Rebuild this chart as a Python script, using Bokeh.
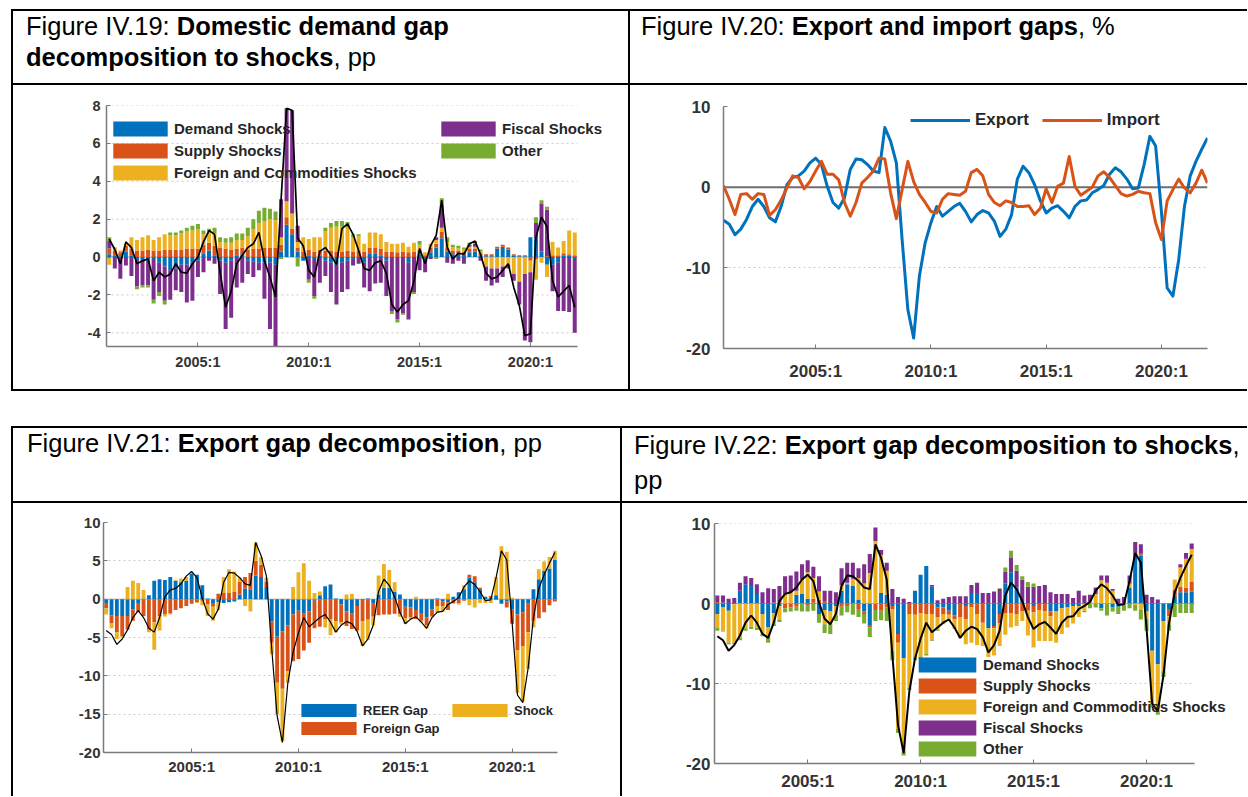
import numpy as np
from bokeh.plotting import figure
from bokeh.models import (Range1d, FixedTicker, Legend, LegendItem, Span, Div,
                          Spacer, ColumnDataSource, PrintfTickFormatter)
from bokeh.layouts import column, row
from bokeh.embed import file_html
from bokeh.resources import INLINE

# ---------------- data ----------------
quarters = [f"{y}:{q}" for y in range(2001, 2023) for q in range(1, 5)][:85]
tick_labels = ["2005:1", "2010:1", "2015:1", "2020:1"]

# Figure IV.20: export and import gaps, %
export_gap = [-4.1, -4.6, -5.9, -5.2, -4.0, -2.4, -1.5, -2.4, -3.8, -4.3,
              -2.4, 0.3, 1.2, 1.4, 2.0, 3.0, 3.6, 2.8, 0.1, -1.9,
              -2.6, -1.3, 2.2, 3.5, 3.4, 2.8, 2.0, 1.8, 7.4, 5.7,
              3.0, -6.5, -15.2, -18.7, -11.0, -6.9, -4.4, -2.4, -3.6, -3.0,
              -2.4, -2.0, -3.0, -4.3, -3.4, -2.9, -3.2, -4.2, -6.1, -5.2,
              -3.4, 1.0, 2.6, 1.8, 0.3, -1.7, -3.2, -2.6, -2.3, -3.0,
              -3.8, -2.4, -1.7, -1.6, -0.7, -0.3, 0.2, 1.6, 2.4, 1.9,
              1.0, -0.2, -0.1, 2.8, 6.3, 5.1, -3.0, -12.5, -13.5, -9.0,
              -2.4, 1.4, 3.2, 4.7, 6.1]
import_gap = [0.2, -1.5, -3.4, -0.9, -0.8, -1.5, -0.8, -0.9, -3.5, -2.8,
              -1.6, -0.1, 1.4, 1.2, -0.2, 0.7, 2.0, 3.2, 1.6, 1.6,
              0.9, -1.9, -3.6, -1.9, 0.5, 1.2, 2.0, 3.6, 3.5, -0.7,
              -3.9, -0.3, 3.2, 0.7, -0.9, -1.9, -3.0, -3.2, -1.5, -0.8,
              -0.9, -1.0, -0.5, 1.8, 2.2, 1.4, -0.9, -1.9, -2.3, -1.7,
              -1.9, -2.4, -2.4, -2.3, -3.4, -2.6, -0.2, -1.9, 0.1, 0.5,
              3.8, 0.1, -1.0, -0.5, 0.0, 1.4, 1.9, 1.2, 0.2, -0.8,
              -1.1, -0.9, -0.5, -0.7, -0.8, -4.4, -6.5, -1.7, -0.3, 1.0,
              -0.1, -0.7, 0.5, 2.1, 0.5]

# Figure IV.19: domestic demand gap decomposition to shocks, pp
dd_gap = [0.95, 0.4, -0.35, 0.8, 0.5, -0.35, -0.2, -0.1, -1.25, -0.8,
          -1.05, -0.9, -0.35, -0.8, -0.85, -0.35, 0.0, 0.8, 1.4, 1.2,
          -0.8, -2.65, -1.8, -0.35, 0.1, 0.5, 0.7, 1.3, -0.2, -1.05,
          -2.1, 3.0, 7.85, 7.75, 1.0, 0.6, -0.7, -1.05, 0.3, 0.5,
          0.1, -0.4, 1.5, 1.75, 1.2, 0.35, -0.6, -0.7, -0.3, -0.2,
          -0.85, -2.5, -2.9, -2.5, -2.3, -1.25, 0.45, -0.35, 0.6, 1.15,
          3.0, 0.5, -0.1, 0.2, 0.15, 0.7, 0.85, 0.15, -0.85, -1.15,
          -1.05, -0.7, -0.35, -1.6, -2.55, -4.15, -4.05, 1.05, 2.1, 1.6,
          -1.25, -2.1, -1.8, -1.5, -2.65]
dd_demand = [0.15, 0.1, 0.05, 0.3, 0.1, -0.1, -0.2, -0.2, -0.1, -0.3,
             -0.5, -0.7, -0.6, -0.4, -0.4, -0.3, -0.2, 0.2, 0.35, 0.1,
             -0.2, -0.3, -0.2, 0.1, 0.15, -0.2, -0.25, -0.3, -0.3, -0.3,
             -0.4, 0.3, 1.7, 1.2, 0.3, -0.2, 0.1, -0.1, 0.1, -0.2,
             -0.3, -0.4, -0.3, -0.2, -0.1, 0.0, -0.3, 0.2, 0.2, 0.1,
             -0.2, 0.0, 0.0, 0.0, -0.3, 0.0, 0.15, -0.1, 0.25, 0.5,
             1.0, 0.3, 0.15, 0.2, 0.15, 0.25, 0.3, 0.1, 0.05, 0.05,
             0.45, 0.55, 0.4, 0.1, 0.05, 0.05, 1.05, 1.0, 0.3, -0.4,
             -0.4, -0.3, 0.1, 0.1, -0.1]
dd_supply = [0.3, 0.25, 0.2, 0.3, 0.35, 0.35, 0.35, 0.4, 0.35, 0.35,
             0.4, 0.4, 0.4, 0.4, 0.45, 0.45, 0.45, 0.45, 0.4, 0.5,
             0.5, 0.45, 0.4, 0.35, 0.35, 0.4, 0.45, 0.45, 0.5, 0.5,
             0.5, 0.35, 0.4, 0.3, 0.2, 0.3, 0.3, 0.3, 0.3, 0.35,
             0.35, 0.3, 0.3, 0.35, 0.3, 0.35, 0.3, 0.3, 0.3, 0.35,
             0.3, 0.3, 0.25, 0.3, 0.25, 0.3, 0.2, 0.1, 0.25, 0.2,
             0.35, 0.2, 0.2, 0.15, 0.15, 0.2, 0.15, 0.1, 0.1, 0.1,
             0.1, 0.1, 0.1, 0.05, 0.05, 0.05, -0.2, -0.1, 0.0, 0.05,
             0.1, 0.1, 0.1, 0.05, 0.1]
dd_foreign = [-0.4, 0.1, 0.1, 0.1, 0.6, 0.55, 0.7, 0.75, 0.55, 0.7,
              0.8, 0.75, 0.75, 0.85, 0.9, 0.95, 1.0, 0.55, 0.55, 0.65,
              0.3, 0.3, 0.35, 0.45, 0.4, 0.7, 1.0, 1.35, 1.4, 1.5,
              1.45, 0.4, 0.85, 0.8, 0.3, 0.75, 0.55, 0.75, 0.65, 1.0,
              1.2, 1.3, 1.3, 1.2, 0.75, 0.75, 0.4, 0.8, 0.8, 0.75,
              0.5, 0.4, 0.45, 0.45, 0.3, 0.45, 0.3, 0.15, 0.2, 0.2,
              0.2, 0.3, 0.15, 0.1, 0.1, 0.1, 0.1, 0.1, -0.5, -0.6,
              -0.6, -0.5, -0.4, -0.9, -1.3, -0.9, -0.6, -1.1, -0.3, -0.65,
              0.7, 0.4, 0.65, 1.25, 1.2]
dd_fiscal = [0.4, -0.6, -1.15, -0.45, -1.0, -1.45, -1.3, -1.3, -2.15, -1.55,
             -1.8, -1.55, -1.15, -1.45, -2.0, -2.0, -0.85, -0.8, -0.2, -0.35,
             -1.75, -3.5, -3.0, -1.6, -1.35, -0.7, -0.8, -0.4, -1.9, -3.5,
             -4.3, 2.0, 4.9, 5.45, 0.85, 0.0, -1.2, -1.95, -1.35, -0.8,
             -1.55, -2.1, -1.55, -1.5, -0.35, -0.35, -1.3, -1.8, -1.4, -1.35,
             -1.85, -2.85, -3.3, -2.95, -3.0, -1.85, -0.7, -0.7, -0.1, 0.15,
             1.2, -0.3, -0.35, -0.2, -0.35, 0.1, 0.15, -0.2, -0.75, -0.9,
             -0.75, -0.55, -0.2, -0.35, -1.2, -3.5, -3.7, 0.8, 2.5, 2.45,
             -1.4, -2.55, -2.85, -2.9, -3.9]
dd_other = [0.2, 0.05, 0.0, 0.0, 0.0, -0.15, -0.1, -0.1, -0.2, -0.2,
            -0.2, 0.15, 0.15, 0.15, 0.2, 0.25, 0.3, 0.2, 0.2, 0.3,
            0.25, 0.25, 0.3, 0.35, 0.35, 0.45, 0.55, 0.65, 0.7, 0.55,
            0.45, -0.1, 0.0, 0.0, -0.5, 0.0, -0.15, -0.15, 0.0, 0.2,
            0.25, 0.3, 0.3, 0.3, 0.15, 0.1, 0.0, 0.0, 0.0, 0.0,
            0.0, -0.15, -0.15, -0.1, 0.0, -0.1, 0.2, 0.0, 0.0, -0.1,
            0.35, 0.25, 0.15, 0.15, 0.1, 0.1, 0.15, 0.1, 0.0, 0.0,
            0.0, 0.0, 0.0, 0.0, 0.0, 0.0, 0.0, 0.3, 0.2, 0.15,
            0.0, 0.0, 0.0, 0.0, 0.0]

# Figure IV.21: export gap decomposition, pp
ex_reer = [-0.5, -2.1, -2.2, -2.2, -2.2, -1.3, -0.5, 0.1, 0.5, 2.4,
           2.6, 2.5, 2.9, 2.4, 2.2, 2.4, 3.3, 3.2, 1.8, 0.1,
           -0.5, -0.4, -0.5, -0.4, -0.3, 0.6, 1.4, 1.3, 3.1, 2.9,
           1.6, -2.9, -4.9, -4.2, -3.4, -2.0, -1.5, -1.8, -1.6, -0.2,
           0.5, 1.7, 1.9, 0.1, -0.7, -1.6, -1.9, -0.9, -0.1, 0.1,
           -0.6, 0.6, 1.5, 1.5, 1.0, 0.6, -1.0, -1.1, -1.4, -1.8,
           -2.4, -1.3, 0.1, -0.3, -0.4, 0.3, 0.9, 1.3, 2.8, 2.2,
           1.2, 0.3, 0.2, 0.5, -0.6, -0.3, -1.3, -2.0, -1.7, -0.6,
           1.3, 2.6, 3.7, 4.0, 5.1]
ex_foreign_gap = [-0.7, -1.0, -2.1, -2.6, -1.8, -1.5, -1.2, -2.2, -4.0, -3.0,
                  -2.2, -1.95, -1.8, -1.4, -1.2, -0.9, -0.6, -0.4, -0.2, -0.7,
                  -0.5, 0.7, 0.8, 0.8, 1.0, 1.7, 1.5, 2.1, 1.9, 1.6,
                  0.7, -2.8, -6.0, -7.5, -6.0, -6.1, -6.3, -4.9, -4.1, -3.6,
                  -3.6, -2.6, -2.6, -2.9, -2.3, -1.9, -2.0, -3.2, -2.8, -2.7,
                  -1.7, -2.1, -2.0, -2.0, -1.9, -2.0, -1.5, -1.3, -1.2, -1.0,
                  -1.0, -0.9, -0.9, -0.6, -1.0, -0.5, -0.5, -0.2, 0.4, 0.8,
                  0.3, 0.0, 0.2, -0.1, 0.0, -0.8, -1.9, -4.7, -4.4, -3.7,
                  -2.8, -2.5, -1.7, -0.8, -0.3]
ex_shock = [-0.8, -0.7, -0.9, -0.2, 1.6, 2.4, 2.1, 1.1, -0.3, -3.6,
            -1.9, -0.3, -0.2, 0.1, 0.5, 0.5, 0.3, -0.1, -0.6, -1.5,
            -1.8, -1.0, 2.1, 3.1, 2.6, 0.5, -0.9, -1.6, 2.4, 1.0,
            0.5, -1.5, -4.1, -6.8, -1.5, 1.6, 3.5, 4.7, 2.4, 0.8,
            0.5, -1.1, -2.1, -1.4, -0.3, 0.6, 0.7, -0.1, -3.2, -2.6,
            -1.1, 2.5, 3.1, 2.3, 1.2, -0.3, -0.7, -0.2, 0.3, -0.2,
            -0.4, -0.2, -0.9, -0.7, 0.7, -0.1, -0.2, 0.5, -0.8, -1.1,
            -0.5, -0.5, -0.5, 2.4, 6.9, 6.2, 0.2, -5.5, -7.2, -4.8,
            -0.9, 1.3, 1.2, 1.5, 1.2]

# Figure IV.22: export gap decomposition to shocks, pp
xs_demand = [-1.3, -0.5, -0.9, -0.1, 1.6, 2.4, 2.2, 1.2, -1.3, -3.0,
             -1.2, -0.3, 0.0, 0.0, 1.1, 1.2, 0.6, 0.1, -1.3, -0.8,
             -1.0, -0.3, 1.6, 2.4, 2.2, 0.5, -1.0, -2.7, 0.0, 1.3,
             1.1, -0.3, -3.8, -6.8, 0.0, 1.6, 3.6, 4.7, 2.1, -0.5,
             -0.5, -0.9, -1.5, 0.0, -0.3, 1.3, 1.3, 0.0, -3.1, -2.8,
             -1.3, 2.5, 3.9, 2.0, 0.3, 0.0, -0.3, 0.0, 0.0, -1.0,
             -1.0, -0.6, -0.5, -0.3, -0.3, 0.0, 0.0, 0.0, -0.6, 0.0,
             -0.5, -0.4, 0.0, 2.0, 6.3, 6.0, -1.0, -5.9, -7.6, -2.2,
             -0.7, 0.8, 1.4, 1.4, 1.5]
xs_supply = [0.2, 0.1, 0.0, 0.0, 0.0, 0.0, 0.0, 0.0, 0.0, 0.0,
             0.1, 0.2, -0.6, -0.5, -0.4, 0.0, -0.2, 0.5, 0.5, 0.3,
             0.0, 0.0, -0.4, -0.3, 0.0, -0.7, -0.3, -0.3, -0.8, -0.9,
             -0.5, -0.4, -1.1, 0.0, -1.3, -1.4, -1.2, -1.3, -1.3, -1.2,
             -0.8, -0.5, -0.5, -1.7, -1.7, -0.5, -1.3, -2.4, 0.0, -0.3,
             -1.2, -1.2, -1.2, -1.3, -1.0, -0.9, -0.8, -0.8, -1.0, -0.6,
             0.0, 0.0, 0.0, 0.0, 0.0, 0.0, 0.0, 0.0, 0.0, 0.0,
             0.0, 0.0, 0.1, 0.0, 0.0, 0.3, 0.0, 0.0, 0.0, 0.0,
             -0.9, 0.9, 0.7, 0.6, 1.2]
xs_foreign = [-1.7, -2.9, -4.0, -4.8, -4.3, -3.1, -2.9, -3.0, -2.5, -1.2,
              -1.3, -1.7, 1.2, 1.4, 0.5, 1.8, 3.3, 2.6, 1.0, -1.8,
              -1.6, -1.2, 0.7, 0.2, 0.9, 2.7, 2.5, 3.8, 7.8, 4.8,
              3.0, -5.2, -10.8, -11.8, -9.2, -5.4, -5.5, -5.0, -3.3, -1.6,
              -1.3, -0.8, -1.2, -2.6, -3.1, -4.4, -3.9, -2.9, -3.6, -3.4,
              -2.8, -2.7, -1.8, -1.5, -1.2, -3.1, -4.4, -3.9, -3.7, -3.1,
              -3.9, -3.2, -2.5, -2.2, -1.4, -0.9, 0.3, 1.2, 2.9, 2.6,
              1.6, 0.0, 0.0, 0.5, -0.2, -0.8, -0.9, -6.5, -5.8, -6.2,
              -1.0, 1.3, 2.4, 3.6, 4.1]
xs_fiscal = [0.8, 0.9, 0.6, 0.7, 1.0, 1.0, 1.0, 1.2, 1.4, 1.9,
             1.7, 2.0, 2.2, 2.1, 2.4, 1.9, 1.5, 1.4, 1.9, 1.3,
             1.6, 1.4, 2.1, 2.5, 2.0, 1.2, 2.4, 2.4, 1.7, 0.6,
             1.0, 1.8, 0.8, 0.6, 0.2, 0.0, 0.0, 0.0, 0.2, 0.4,
             0.6, 0.8, 0.9, 0.9, 0.9, 1.0, 1.3, 1.3, 1.3, 1.5,
             1.8, 1.5, 1.8, 2.1, 2.7, 2.1, 2.1, 2.2, 2.3, 1.4,
             1.2, 1.2, 1.2, 0.7, 1.6, 1.0, 0.8, 0.8, 0.6, 0.9,
             0.2, 0.6, 0.7, 1.0, 1.4, 1.1, 1.1, 0.8, 0.5, 0.0,
             0.0, 0.0, 0.4, 0.7, 0.7]
xs_other = [-0.4, -0.1, -0.2, -0.2, -0.3, -0.3, -0.3, -0.3, -0.3, -0.7,
            -0.3, -0.3, -0.5, -0.5, -0.5, -1.0, -0.8, -0.9, -1.1, -1.1,
            -1.2, -0.7, -1.1, -0.8, -1.4, -1.0, -1.2, -1.2, -1.4, -1.2,
            -1.7, -1.2, -0.5, -0.4, -0.3, -0.3, -0.2, -0.2, -0.1, -0.1,
            0.0, 0.0, 0.0, 0.0, 0.0, 0.0, 0.0, 0.0, 0.0, 0.0,
            0.1, 0.5, 0.9, 0.7, 0.4, 0.6, 0.4, 0.0, 0.0, 0.0,
            0.0, 0.0, 0.0, 0.0, 0.0, -0.2, -0.6, -0.5, -0.3, -1.5,
            -0.5, -0.9, -0.9, -0.6, -0.7, -1.2, -1.5, -0.6, -0.5, -0.8,
            -0.8, -1.7, -1.2, -1.2, -1.2]

shock_names = ["Demand Shocks", "Supply Shocks", "Foreign and Commodities Shocks",
               "Fiscal Shocks", "Other"]
gap_names = ["REER Gap", "Foreign Gap", "Shock"]

BLUE, ORANGE, YELLOW, PURPLE, GREEN = "#0072BD", "#D95319", "#EDB120", "#7E2F8E", "#77AC30"
SHOCK_COLORS = [BLUE, ORANGE, YELLOW, PURPLE, GREEN]
FONT = "Liberation Sans"

x = np.arange(len(quarters))
tick_pos = [quarters.index(t) for t in tick_labels]
X0, X1 = -0.5, len(quarters) - 0.5


def base_fig(w, h, yr, yticks, xr, borders, lab_size, xstand, ystand, own_grid=False):
    left, right, top, bottom = borders
    p = figure(width=w, height=h, x_range=Range1d(*xr), y_range=Range1d(*yr),
               output_backend="svg", toolbar_location=None,
               min_border_left=left, min_border_right=right,
               min_border_top=top, min_border_bottom=bottom)
    try:
        p.frame_align = False   # keep each chart's own frame inside its table cell
    except AttributeError:
        pass
    p.outline_line_color = None
    p.background_fill_color = "white"
    p.border_fill_color = "white"
    p.xaxis.ticker = FixedTicker(ticks=tick_pos)
    p.xaxis.major_label_overrides = {tp: lab for tp, lab in zip(tick_pos, tick_labels)}
    p.yaxis.ticker = FixedTicker(ticks=yticks)
    p.yaxis.formatter = PrintfTickFormatter(format="%d")
    for ax in (p.xaxis, p.yaxis):
        ax.axis_line_color = "#7a7a7a"
        ax.axis_line_width = 1.5
        ax.major_tick_line_color = "#7a7a7a"
        ax.major_tick_in = 4
        ax.major_tick_out = 0
        ax.minor_tick_in = 0
        ax.minor_tick_out = 0
        ax.major_label_text_font = FONT
        ax.major_label_text_font_style = "bold"
        ax.major_label_text_font_size = lab_size
        ax.major_label_text_color = "#333333"
    p.xaxis.major_label_standoff = xstand
    p.yaxis.major_label_standoff = ystand
    p.xgrid.grid_line_color = None
    if own_grid:
        # grid lines limited to the data span (the frame is wider to leave room for the legend)
        p.ygrid.grid_line_color = None
        p.xaxis.bounds = (X0, X1)
        p.segment(x0=[X0] * len(yticks), y0=yticks, x1=[X1] * len(yticks), y1=yticks,
                  line_color="#cccccc", line_dash="2 3", line_width=1, level="underlay")
    else:
        p.ygrid.grid_line_color = "#cccccc"
        p.ygrid.grid_line_dash = "2 3"
    return p


def zero_line(p, color="#b0b0b0", width=1):
    p.segment(x0=[X0], y0=[0], x1=[X1], y1=[0], line_color=color, line_width=width,
              level="underlay")


def stacked(p, comps, colors, width=0.72):
    pos = np.zeros(len(x))
    neg = np.zeros(len(x))
    rends = []
    for vals, col in zip(comps, colors):
        v = np.asarray(vals, dtype=float)
        base = np.where(v >= 0, pos, neg)
        top = base + v
        pos = np.where(v >= 0, top, pos)
        neg = np.where(v < 0, top, neg)
        src = ColumnDataSource(dict(x=x, bottom=base, top=top))
        rends.append(p.vbar(x="x", bottom="bottom", top="top", width=width, source=src,
                            fill_color=col, line_color=None))
    return rends


def make_legend(items, loc, gw, gh, lh, sp, size, standoff=0, orientation="vertical"):
    return Legend(items=[LegendItem(label=l, renderers=[r]) for l, r in items],
                  location=loc, orientation=orientation, glyph_width=gw, glyph_height=gh,
                  label_height=lh, spacing=sp, padding=0, margin=0, label_standoff=standoff,
                  border_line_color=None, background_fill_alpha=0,
                  label_text_font=FONT, label_text_font_style="bold",
                  label_text_font_size=size, label_text_color="#262626")


# ---- Figure IV.19 ----  (data span 471 px over 85 quarters, frame 502 px wide)
p1 = base_fig(615, 304, (-4.72, 8), [-4, -2, 0, 2, 4, 6, 8],
              (X0, X0 + 502 * 85 / 471), (93, 20, 20, 43), "14.5px", 7, 6, own_grid=True)
zero_line(p1)
r1 = stacked(p1, [dd_demand, dd_supply, dd_foreign, dd_fiscal, dd_other], SHOCK_COLORS)
p1.line(x, dd_gap, line_color="black", line_width=1.7)
p1.add_layout(make_legend(list(zip(shock_names[:3], r1[:3])), (0, 164), 68, 19, 19, 3, "15px"))
p1.add_layout(make_legend(list(zip(shock_names[3:], r1[3:])), (328, 186), 68, 19, 19, 3, "15px"))

# ---- Figure IV.20 ----
p2 = base_fig(617, 304, (-20, 10), [-20, -10, 0, 10], (0, 84),
              (93, 40, 21, 41), "17px", 13, 13)
p2.add_layout(Span(location=0, dimension="width", line_color="#6e6e6e", line_width=2,
                   level="underlay"))
le = p2.line(x, export_gap, line_color=BLUE, line_width=3, line_join="round")
li = p2.line(x, import_gap, line_color=ORANGE, line_width=3, line_join="round")
p2.add_layout(make_legend([("Export", le), ("Import", li)], (187, 218), 60, 20, 20, 13, "17px",
                          standoff=5, orientation="horizontal"))

# ---- Figure IV.21 ----
p3 = base_fig(607, 293, (-20, 10), [-20, -15, -10, -5, 0, 5, 10], (X0, X1),
              (90, 63, 19, 44), "15px", 5, 3)
zero_line(p3)
r3 = stacked(p3, [ex_reer, ex_foreign_gap, ex_shock], [BLUE, ORANGE, YELLOW])
p3.line(x, export_gap, line_color="black", line_width=1.2)
p3.add_layout(make_legend([(gap_names[0], r3[0]), (gap_names[1], r3[1])], (191, 16), 69, 16, 16, 2, "13px"))
p3.add_layout(make_legend([(gap_names[2], r3[2])], (342, 34), 69, 16, 16, 2, "13px"))

# ---- Figure IV.22 ----  (data span 480 px over 85 quarters, frame 522 px wide)
p4 = base_fig(625, 293, (-20, 10), [-20, -10, 0, 10], (X0, X0 + 522 * 85 / 480),
              (92, 11, 20, 33), "17px", 8, 4, own_grid=True)
zero_line(p4)
r4 = stacked(p4, [xs_demand, xs_supply, xs_foreign, xs_fiscal, xs_other], SHOCK_COLORS)
p4.line(x, export_gap, line_color="black", line_width=2)
p4.add_layout(make_legend(list(zip(shock_names, r4)), (197, 5), 72, 19, 19, 2, "15px"))


# ---------------- table layout ----------------
def bar(w, h, color="black"):
    return Spacer(width=w, height=h, styles={"background-color": color})


def title(html, w, h, pad_top, pad_left, lh):
    txt = (f'<div style="font-family:\'Liberation Sans\',Arial,sans-serif;font-size:25.5px;'
           f'line-height:{lh}px;color:#000;padding:{pad_top}px 0 0 {pad_left}px;'
           f'white-space:nowrap;">{html}</div>')
    return Div(text=txt, width=w, height=h, margin=0)


t1 = title("Figure IV.19: <b>Domestic demand gap</b><br><b>decomposition to shocks</b>, pp",
           615, 72, 0, 13, 31)
t2 = title("Figure IV.20: <b>Export and import gaps</b>, %", 617, 72, 0, 11, 31)
t3 = title("Figure IV.21: <b>Export gap decomposition</b>, pp", 607, 73, 0, 14, 31)
t4 = title("Figure IV.22: <b>Export gap decomposition to shocks</b>,<br>pp", 625, 73, 0, 12, 35)

table1 = column(
    bar(1236, 2),
    row(bar(2, 72), t1, bar(2, 72), t2, spacing=0),
    bar(1236, 2),
    row(bar(2, 304), p1, bar(2, 304), p2, spacing=0),
    bar(1236, 2),
    spacing=0)
table2 = column(
    bar(1236, 2),
    row(bar(2, 73), t3, bar(2, 73), t4, spacing=0),
    bar(1236, 2),
    row(bar(2, 293), p3, bar(2, 293), p4, spacing=0),
    spacing=0)

page = column(
    Spacer(width=10, height=9),
    row(Spacer(width=11, height=382), table1, spacing=0),
    Spacer(width=10, height=35),
    row(Spacer(width=11, height=370), table2, spacing=0),
    spacing=0)

open("out.html", "w").write(file_html(page, INLINE, "Figures IV.19-IV.22"))
